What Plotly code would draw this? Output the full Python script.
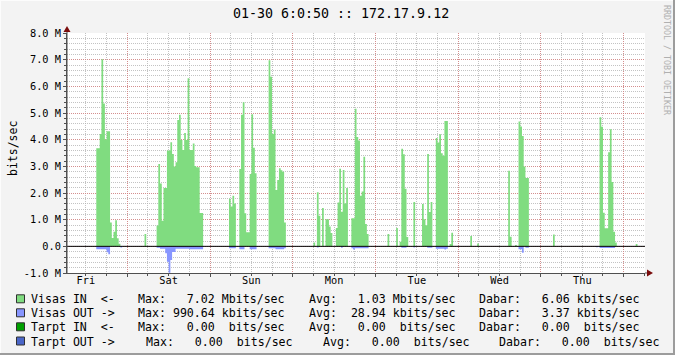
import numpy as np
import plotly.graph_objects as go

# ---------------- data ----------------
# time axis: hours since Friday 00:00, RRD rows of 30 minutes; values in Mbit/s
STEP = 0.5
day_labels = ["Fri", "Sat", "Sun", "Mon", "Tue", "Wed", "Thu"]
y_tick_values = [-1, 0, 1, 2, 3, 4, 5, 6, 7, 8]
y_tick_labels = ["-1.0 M", "0.0", "1.0 M", "2.0 M", "3.0 M", "4.0 M",
                 "5.0 M", "6.0 M", "7.0 M", "8.0 M"]

# Visas IN (inbound) bursts: (first row start hour, values)
visas_in_bursts = [
    (15.0, [3.68, 3.68, 4.21, 7.02, 5.36, 4.01, 4.32, 4.32, 0.89, 0.31, 0.55, 0.98, 0.30, 0.10]),
    (29.0, [0.46]),
    (32.5, [0.78, 3.09, 2.36, 0.96, 2.19, 2.19, 3.59, 3.59, 3.90, 3.46, 2.99, 3.15, 4.74, 4.93,
            3.99, 3.61, 4.25, 3.99, 6.30, 3.61, 3.61, 3.86, 3.01, 2.97, 2.97, 1.25, 1.25]),
    (53.5, [1.78, 1.49, 1.90, 1.61]),
    (56.5, [2.90, 4.93, 5.40, 1.24, 0.53, 0.53, 2.71, 4.95, 3.70, 2.74]),
    (65.0, [6.98, 6.36, 4.21, 4.38, 2.11, 2.49, 2.93, 2.85, 2.80, 0.89]),
    (78.0, [0.14, 0.0, 2.03, 1.15, 0.0, 1.44, 0.0, 1.02, 1.02, 0.74, 0.50]),
    (84.5, [0.69, 1.64, 2.91, 1.30, 2.86, 1.61, 2.19]),
    (89.0, [1.05, 1.05, 5.16, 4.10, 3.97, 1.90, 2.06, 3.36, 0.84, 0.46]),
    (99.5, [0.46]),
    (102.0, [0.69]),
    (103.0, [0.17, 3.66, 3.45, 2.16, 0.35]),
    (107.0, [1.66]),
    (109.5, [1.59, 1.02, 0.79, 3.46, 1.29, 1.66]),
    (113.5, [4.06, 3.89, 4.20, 3.49, 3.40, 4.70, 4.70]),
    (117.5, [0.09, 0.51]),
    (123.5, [0.39]),
    (125.5, [0.11]),
    (134.5, [2.83, 0.36]),
    (136.5, [0.05]),
    (137.5, [4.68, 4.49, 4.14, 2.99, 2.56, 2.56]),
    (147.5, [0.44]),
    (161.0, [4.84, 4.48, 1.26, 0.68, 0.68, 3.53, 4.39, 2.41, 0.55, 0.14]),
    (171.5, [0.09]),
]

# Visas OUT (outbound) bursts, drawn below zero
visas_out_bursts = [
    (15.0, [0.11, 0.11, 0.11, 0.11, 0.11, 0.11, 0.22, 0.30]),
    (22.0, [0.04]),
    (32.5, [0.05, 0.05, 0.09, 0.09, 0.09, 0.26, 0.58, 0.99, 0.51, 0.21, 0.21,
            0.09, 0.09, 0.09, 0.09, 0.09, 0.09, 0.09, 0.09,
            0.11, 0.11, 0.11, 0.11, 0.11, 0.11, 0.11, 0.11]),
    (53.5, [0.07, 0.07, 0.07, 0.07]),
    (56.5, [0.11, 0.11, 0.11, 0.0, 0.0, 0.0, 0.11, 0.11, 0.11, 0.11]),
    (65.0, [0.07, 0.07, 0.07, 0.07, 0.11, 0.11, 0.11, 0.11, 0.11, 0.07]),
    (79.0, [0.04]),
    (86.0, [0.05]),
    (89.0, [0.07, 0.12, 0.07, 0.07, 0.07, 0.07, 0.07, 0.07, 0.07, 0.07]),
    (103.5, [0.05, 0.05, 0.05]),
    (107.0, [0.04]),
    (111.0, [0.05, 0.05, 0.05]),
    (113.5, [0.09, 0.09, 0.09, 0.09, 0.09, 0.12, 0.09]),
    (137.5, [0.11, 0.11, 0.24]),
    (139.5, [0.05, 0.05]),
    (160.0, [0.03]),
    (161.0, [0.06, 0.06, 0.06, 0.06, 0.06, 0.06, 0.06, 0.06, 0.06]),
]

legend_names = ["Visas IN  <-", "Visas OUT ->", "Tarpt IN  <-", "Tarpt OUT ->"]
legend_max = ["  7.02 M", "990.64 k", "  0.00  ", "  0.00  "]
legend_avg = ["  1.03 M", " 28.94 k", "  0.00  ", "  0.00  "]
legend_cur = ["  6.06 k", "  3.37 k", "  0.00  ", "  0.00  "]

# ---------------- build series ----------------
t = np.arange(6.5, 174.5, STEP)


def build(bursts):
    v = np.zeros_like(t)
    for start, vals in bursts:
        i0 = int(round((start - t[0]) / STEP))
        v[i0:i0 + len(vals)] = vals
    return v * 1e6


v_in = build(visas_in_bursts)
v_out = -build(visas_out_bursts)
t_ext = np.append(t, t[-1] + STEP)
v_in = np.append(v_in, v_in[-1])
v_out = np.append(v_out, v_out[-1])

# ---------------- style ----------------
W, H = 675, 355
L, R, T, B = 67, 645, 33, 273
X0 = 6.51
X1 = X0 + (R - L) * 24 / 82.73
MONO = "DejaVu Sans Mono"
GREEN = "#80dc80"
BLUE = "#8896ff"
BOX_COLORS = ["#80dc80", "#8896ff", "#00a000", "#4a66c8"]
RED_GRID = "rgba(220,120,120,0.7)"
GRAY_GRID = "rgba(175,175,175,0.75)"
AXIS = "#505050"
ARROW = "#7a0c0c"


def px(x):
    return (x - L) / (R - L)


def py(y):
    return (B - y) / (B - T)


fig = go.Figure()
fig.add_trace(go.Scatter(x=t_ext, y=v_in, mode="lines", line=dict(shape="hv", width=0),
                         fill="tozeroy", fillcolor=GREEN, hoverinfo="skip", showlegend=False))
fig.add_trace(go.Scatter(x=t_ext, y=v_out, mode="lines", line=dict(shape="hv", width=0),
                         fill="tozeroy", fillcolor=BLUE, hoverinfo="skip", showlegend=False,
                         xaxis="x2"))

fig.update_layout(
    width=W, height=H,
    margin=dict(l=L, r=W - R, t=T, b=H - B, pad=0),
    paper_bgcolor="#f3f3f3",
    plot_bgcolor="#ffffff",
    showlegend=False,
    xaxis=dict(
        range=[X0, X1], tickvals=[24 * k for k in range(1, 8)], showticklabels=False,
        showgrid=True, gridcolor=RED_GRID, griddash="1px,1px", gridwidth=1,
        minor=dict(dtick=6, tick0=0, showgrid=True, gridcolor=GRAY_GRID, griddash="1px,1px",
                   ticks="outside", ticklen=2, tickcolor=AXIS),
        ticks="outside", ticklen=3, tickcolor=AXIS,
        showline=True, linecolor=AXIS, linewidth=1, zeroline=False, fixedrange=True,
    ),
    xaxis2=dict(
        overlaying="x", matches="x", anchor="y", side="bottom",
        tickvals=[12 + 24 * k for k in range(7)], ticktext=day_labels,
        showgrid=False, ticks="", showline=False, zeroline=False,
        tickfont=dict(family=MONO, size=10.3, color="#000000"),
    ),
    yaxis=dict(
        range=[-1e6, 8e6], tickvals=[v * 1e6 for v in y_tick_values], ticktext=y_tick_labels,
        showgrid=True, gridcolor=RED_GRID, griddash="1px,1px", gridwidth=1,
        minor=dict(dtick=2e5, tick0=0, showgrid=True, gridcolor=GRAY_GRID, griddash="1px,1px",
                   ticks="outside", ticklen=2, tickcolor=AXIS),
        ticks="outside", ticklen=3, tickcolor=AXIS,
        showline=True, linecolor=AXIS, linewidth=1, zeroline=False,
        tickfont=dict(family=MONO, size=10.3, color="#000000"),
    ),
)

shapes = []
# zero rule on top of the data
shapes.append(dict(type="line", xref="paper", yref="y", x0=0, x1=1, y0=0, y1=0,
                   line=dict(color="#000000", width=1), layer="above"))
# axis extension + arrows
shapes.append(dict(type="line", xref="paper", yref="paper", x0=px(L), x1=px(L), y0=py(B), y1=py(T - 5),
                   line=dict(color=AXIS, width=1)))
shapes.append(dict(type="line", xref="paper", yref="paper", x0=px(R), x1=px(R + 6), y0=py(B), y1=py(B),
                   line=dict(color=AXIS, width=1)))
shapes.append(dict(type="path", xref="paper", yref="paper",
                   path=f"M {px(L-3.5)} {py(T-1)} L {px(L+3.5)} {py(T-1)} L {px(L)} {py(T-7)} Z",
                   fillcolor=ARROW, line=dict(width=0)))
shapes.append(dict(type="path", xref="paper", yref="paper",
                   path=f"M {px(R+2)} {py(B-3.5)} L {px(R+2)} {py(B+3.5)} L {px(R+8)} {py(B)} Z",
                   fillcolor=ARROW, line=dict(width=0)))
# 3d frame
shapes.append(dict(type="line", xref="paper", yref="paper", x0=px(0), x1=px(W), y0=py(0.5), y1=py(0.5),
                   line=dict(color="#fcfcfc", width=1)))
shapes.append(dict(type="line", xref="paper", yref="paper", x0=px(0.5), x1=px(0.5), y0=py(0), y1=py(H),
                   line=dict(color="#fcfcfc", width=1)))
shapes.append(dict(type="line", xref="paper", yref="paper", x0=px(0), x1=px(W), y0=py(H - 1), y1=py(H - 1),
                   line=dict(color="#9c9c9c", width=2)))
shapes.append(dict(type="line", xref="paper", yref="paper", x0=px(W - 1), x1=px(W - 1), y0=py(0), y1=py(H),
                   line=dict(color="#9c9c9c", width=2)))

annotations = []
annotations.append(dict(text="01-30 6:0:50 :: 172.17.9.12", xref="paper", yref="paper",
                        x=px(341), y=py(13), xanchor="center", yanchor="middle", showarrow=False,
                        font=dict(family=MONO, size=13.3, color="#000000")))
annotations.append(dict(text="bits/sec", xref="paper", yref="paper", x=px(13), y=py(149),
                        xanchor="center", yanchor="middle", textangle=-90, showarrow=False,
                        font=dict(family=MONO, size=11.5, color="#000000")))
annotations.append(dict(text="RRDTOOL / TOBI OETIKER", xref="paper", yref="paper", x=px(667), y=py(60),
                        xanchor="center", yanchor="middle", textangle=90, showarrow=False,
                        font=dict(family=MONO, size=8.3, color="#b0b0b0")))

NB = "\u00a0"
row_y = [299.3, 313.3, 327.3, 341.5]
col_x = [[30, 137.3, 308.3, 477.5]] * 3 + [[30, 145, 322, 497.5]]
for i in range(4):
    y = row_y[i]
    shapes.append(dict(type="rect", xref="paper", yref="paper",
                       x0=px(16.5), x1=px(24.5), y0=py(y - 4.5), y1=py(y + 3.5),
                       fillcolor=BOX_COLORS[i], line=dict(color="#303030", width=1)))
    texts = [legend_names[i],
             f"Max: {legend_max[i]}bits/sec",
             f"Avg: {legend_avg[i]}bits/sec",
             f"Dabar: {legend_cur[i]}bits/sec"]
    for xx, tx in zip(col_x[i], texts):
        annotations.append(dict(text=tx.replace(" ", NB), xref="paper", yref="paper",
                                x=px(xx), y=py(y), xanchor="left", yanchor="middle",
                                showarrow=False, borderpad=0,
                                font=dict(family=MONO, size=11.6, color="#000000")))

fig.update_layout(shapes=shapes, annotations=annotations)
fig.write_html("out.html")
